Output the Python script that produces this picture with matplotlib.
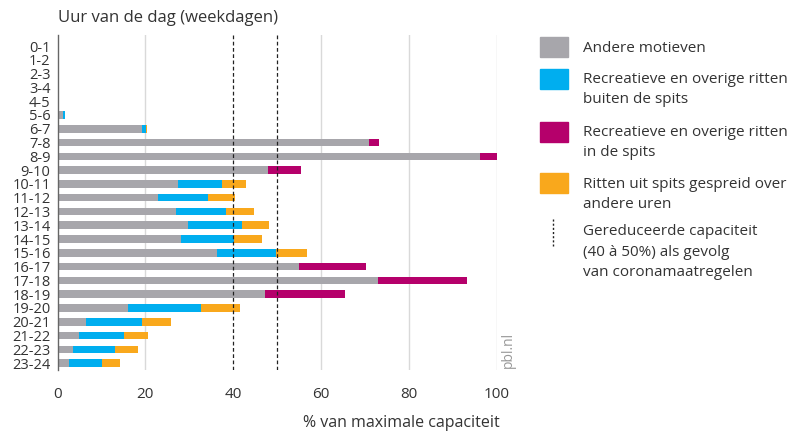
import numpy as np
import matplotlib.pyplot as plt
from matplotlib.patches import Rectangle
from matplotlib.lines import Line2D

plt.rcParams['font.family'] = ['Open Sans', 'DejaVu Sans']

# Data (% van maximale capaciteit per uur)
uren = ['0-1', '1-2', '2-3', '3-4', '4-5', '5-6', '6-7', '7-8', '8-9', '9-10',
        '10-11', '11-12', '12-13', '13-14', '14-15', '15-16', '16-17', '17-18',
        '18-19', '19-20', '20-21', '21-22', '22-23', '23-24']
andere = [0, 0, 0, 0.2, 0.3, 1.3, 19.3, 70.9, 96.1, 47.8,
          27.5, 22.9, 26.9, 29.7, 28.1, 36.4, 54.9, 72.9,
          47.1, 16.1, 6.5, 4.9, 3.5, 2.6]
buiten_spits = [0, 0, 0, 0, 0, 0.5, 0.8, 0, 0, 0,
                10.0, 11.4, 11.5, 12.2, 12.1, 13.4, 0, 0,
                0, 16.6, 12.7, 10.2, 9.6, 7.6]
in_spits = [0, 0, 0, 0, 0, 0, 0, 2.3, 3.9, 7.7,
            0, 0, 0, 0, 0, 0, 15.4, 20.2,
            18.4, 0, 0, 0, 0, 0]
gespreid = [0, 0, 0, 0, 0, 0, 0.3, 0, 0, 0,
            5.4, 6.1, 6.2, 6.3, 6.4, 7.0, 0, 0,
            0, 8.9, 6.7, 5.4, 5.2, 4.1]
capaciteit = [40, 50]

series = [andere, buiten_spits, in_spits, gespreid]
colors = ['#a7a6ab', '#00aeef', '#b5006b', '#f9a81c']
labels = ['Andere motieven',
          'Recreatieve en overige ritten\nbuiten de spits',
          'Recreatieve en overige ritten\nin de spits',
          'Ritten uit spits gespreid over\nandere uren']

W, H = 788, 433
fig = plt.figure(figsize=(W / 100, H / 100), dpi=100)
ax = fig.add_axes([57.5 / W, 1 - 370 / H, (497 - 57.5) / W, 335 / H])

y = np.arange(len(uren))
left = np.zeros(len(uren))
for vals, c in zip(series, colors):
    ax.barh(y, vals, left=left, height=0.55, color=c, zorder=2)
    left += np.array(vals)

for gx in [20, 60, 80, 100]:
    ax.axvline(gx, color='#d9d9d9', lw=1, zorder=1)
for cx in capaciteit:
    ax.axvline(cx, color='#222222', lw=0.9, ls=(0, (3, 2)), zorder=3)

ax.set_xlim(0, 100)
ax.set_ylim(23.5, -0.8)
ax.set_yticks(y)
ax.set_yticklabels(uren, fontsize=10.5, color='#333333')
ax.set_xticks([0, 20, 40, 60, 80, 100])
ax.tick_params(axis='both', length=0)
ax.tick_params(axis='x', pad=12, labelsize=11, labelcolor='#333333')
ax.tick_params(axis='y', pad=5)
for s in ['top', 'right', 'bottom']:
    ax.spines[s].set_visible(False)
ax.spines['left'].set_color('#666666')
ax.spines['left'].set_linewidth(1)

fig.text(58 / W, 1 - 18 / H, 'Uur van de dag (weekdagen)', fontsize=12,
         color='#333333', va='center', ha='left')
fig.text(500 / W, 1 - 423 / H, '% van maximale capaciteit', fontsize=11.5,
         color='#333333', va='center', ha='right')
fig.text(508 / W, 1 - 350 / H, 'pbl.nl', fontsize=10, color='#999999',
         rotation=90, va='center', ha='center')

# legend
sq_tops = [37, 69, 122, 173]
text_y = [48, 89.5, 142.5, 194.5]
for top, ty, c, lab in zip(sq_tops, text_y, colors, labels):
    fig.add_artist(Rectangle((540 / W, 1 - (top + 20) / H), 28 / W, 20 / H,
                             color=c, transform=fig.transFigure))
    fig.text(583 / W, 1 - ty / H, lab, fontsize=11, color='#333333',
             va='center', ha='left', linespacing=1.5)
fig.add_artist(Line2D([553 / W, 553 / W], [1 - 219 / H, 1 - 246 / H],
                      color='#222222', lw=1, ls=(0, (1.5, 1.5)),
                      transform=fig.transFigure))
fig.text(583 / W, 1 - 252 / H,
         'Gereduceerde capaciteit\n(40 à 50%) als gevolg\nvan coronamaatregelen',
         fontsize=11, color='#333333', va='center', ha='left', linespacing=1.5)

fig.savefig('out.png', dpi=100)
